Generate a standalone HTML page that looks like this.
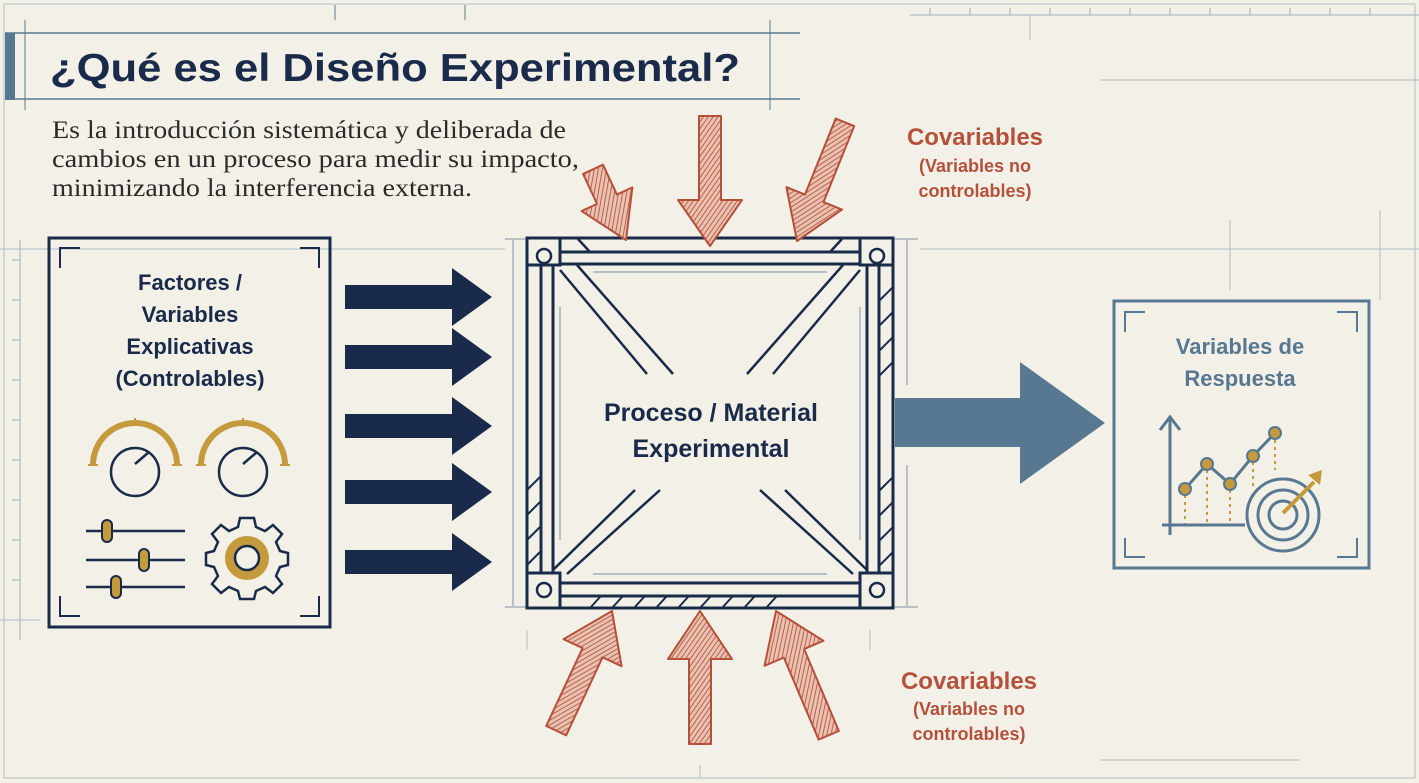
<!DOCTYPE html>
<html><head><meta charset="utf-8"><style>
html,body{margin:0;padding:0;background:#f3f1e7;}
svg{display:block;}
</style></head><body>
<svg width="1419" height="783" viewBox="0 0 1419 783" xmlns="http://www.w3.org/2000/svg" font-family="'Liberation Sans', sans-serif">
<defs>
<pattern id="hatch" width="4" height="4" patternUnits="userSpaceOnUse" patternTransform="rotate(35)">
<rect width="4" height="4" fill="#e8c2b2"/>
<line x1="0" y1="0" x2="0" y2="4" stroke="#b9543c" stroke-width="1.8"/>
</pattern>
</defs>
<rect width="1419" height="783" fill="#f3f1e7"/>
<g stroke="#9fb0bd" stroke-width="1" fill="none" opacity="0.8">
<rect x="4" y="4" width="1411" height="774"/>
<line x1="0" y1="249" x2="505" y2="249"/>
<line x1="920" y1="249" x2="1419" y2="249"/>
<line x1="0" y1="620" x2="40" y2="620"/>
<line x1="1030" y1="15" x2="1030" y2="40"/>
<line x1="1230" y1="220" x2="1230" y2="290"/>
<line x1="1380" y1="210" x2="1380" y2="300"/>
<line x1="1100" y1="80" x2="1419" y2="80"/>
<line x1="527" y1="630" x2="527" y2="650"/>
<line x1="700" y1="765" x2="700" y2="778"/>
<line x1="870" y1="630" x2="870" y2="650"/>
<line x1="1100" y1="760" x2="1300" y2="760"/>
</g>
<g stroke="#9fb0bd" stroke-width="1">
<line x1="20" y1="240" x2="20" y2="640"/>
<line x1="12" y1="260" x2="20" y2="260"/><line x1="12" y1="300" x2="20" y2="300"/><line x1="12" y1="340" x2="20" y2="340"/><line x1="12" y1="380" x2="20" y2="380"/><line x1="12" y1="420" x2="20" y2="420"/><line x1="12" y1="460" x2="20" y2="460"/><line x1="12" y1="500" x2="20" y2="500"/><line x1="12" y1="540" x2="20" y2="540"/><line x1="12" y1="580" x2="20" y2="580"/>
<line x1="910" y1="15" x2="1419" y2="15"/>
<line x1="930" y1="8" x2="930" y2="15"/><line x1="970" y1="8" x2="970" y2="15"/><line x1="1010" y1="8" x2="1010" y2="15"/><line x1="1050" y1="8" x2="1050" y2="15"/><line x1="1090" y1="8" x2="1090" y2="15"/><line x1="1130" y1="8" x2="1130" y2="15"/><line x1="1170" y1="8" x2="1170" y2="15"/><line x1="1210" y1="8" x2="1210" y2="15"/><line x1="1250" y1="8" x2="1250" y2="15"/><line x1="1290" y1="8" x2="1290" y2="15"/><line x1="1330" y1="8" x2="1330" y2="15"/><line x1="1370" y1="8" x2="1370" y2="15"/>
</g>
<rect x="5" y="33" width="10" height="67" fill="#587891"/>
<line x1="5" y1="33" x2="800" y2="33" stroke="#587891" stroke-width="1.5"/>
<line x1="5" y1="99" x2="800" y2="99" stroke="#587891" stroke-width="1.5"/>
<line x1="25" y1="20" x2="25" y2="110" stroke="#587891" stroke-width="1"/>
<line x1="770" y1="20" x2="770" y2="110" stroke="#587891" stroke-width="1"/>
<line x1="335" y1="5" x2="335" y2="20" stroke="#587891" stroke-width="1"/>
<line x1="465" y1="5" x2="465" y2="20" stroke="#587891" stroke-width="1"/>
<text x="50" y="81" font-size="39" font-weight="bold" fill="#1a2a4a" textLength="690" lengthAdjust="spacingAndGlyphs">¿Qué es el Diseño Experimental?</text>
<g font-family="'Liberation Serif', serif" font-size="25" fill="#2b2b2b">
<text x="52" y="138" textLength="514" lengthAdjust="spacingAndGlyphs">Es la introducción sistemática y deliberada de</text>
<text x="52" y="167" textLength="527" lengthAdjust="spacingAndGlyphs">cambios en un proceso para medir su impacto,</text>
<text x="52" y="196" textLength="420" lengthAdjust="spacingAndGlyphs">minimizando la interferencia externa.</text>
</g>
<rect x="49" y="238" width="281" height="389" fill="none" stroke="#1a2a4a" stroke-width="3"/>
<g stroke="#1a2a4a" stroke-width="2" fill="none">
<polyline points="60,268 60,248 80,248"/><polyline points="300,248 319,248 319,268"/>
<polyline points="60,596 60,616 80,616"/><polyline points="300,616 319,616 319,596"/>
</g>
<g font-size="22" font-weight="bold" fill="#1a2a4a" text-anchor="middle">
<text x="190" y="290">Factores /</text>
<text x="190" y="322">Variables</text>
<text x="190" y="354">Explicativas</text>
<text x="190" y="386">(Controlables)</text>
</g>
<g>
<path d="M93,465 A42,42 0 0 1 177,465" fill="none" stroke="#c49a3c" stroke-width="6"/>
<line x1="88" y1="465" x2="98" y2="465" stroke="#c49a3c" stroke-width="2"/><line x1="172" y1="465" x2="182" y2="465" stroke="#c49a3c" stroke-width="2"/>
<line x1="135" y1="418" x2="135" y2="426" stroke="#c49a3c" stroke-width="2"/>
<circle cx="135" cy="472" r="24" fill="#f3f1e7" stroke="#1a2a4a" stroke-width="2.5"/>
<line x1="135" y1="464" x2="149" y2="452" stroke="#1a2a4a" stroke-width="2.5"/>
<path d="M201,465 A42,42 0 0 1 285,465" fill="none" stroke="#c49a3c" stroke-width="6"/>
<line x1="196" y1="465" x2="206" y2="465" stroke="#c49a3c" stroke-width="2"/><line x1="280" y1="465" x2="290" y2="465" stroke="#c49a3c" stroke-width="2"/>
<line x1="243" y1="418" x2="243" y2="426" stroke="#c49a3c" stroke-width="2"/>
<circle cx="243" cy="472" r="24" fill="#f3f1e7" stroke="#1a2a4a" stroke-width="2.5"/>
<line x1="243" y1="464" x2="257" y2="452" stroke="#1a2a4a" stroke-width="2.5"/>
</g>
<g stroke="#1a2a4a" stroke-width="2.5">
<line x1="86" y1="531" x2="185" y2="531"/>
<line x1="86" y1="560" x2="185" y2="560"/>
<line x1="86" y1="587" x2="185" y2="587"/>
</g>
<g fill="#c49a3c" stroke="#1a2a4a" stroke-width="2">
<rect x="102" y="520" width="10" height="22" rx="5"/>
<rect x="139" y="549" width="10" height="22" rx="5"/>
<rect x="111" y="576" width="10" height="22" rx="5"/>
</g>
<g transform="translate(247,558)">
<path d="M-7,-40 L7,-40 L9,-31 L18,-27 L26,-33 L35,-24 L29,-16 L33,-7 L41,-5 L41,7 L33,9 L29,18 L35,26 L26,35 L18,29 L9,33 L7,41 L-7,41 L-9,33 L-18,29 L-26,35 L-35,26 L-29,18 L-33,9 L-41,7 L-41,-5 L-33,-7 L-29,-16 L-35,-24 L-26,-33 L-18,-27 L-9,-31 Z" fill="#f3f1e7" stroke="#1a2a4a" stroke-width="2.5"/>
<circle r="22" fill="#c49a3c"/>
<circle r="12" fill="#f3f1e7" stroke="#1a2a4a" stroke-width="2.5"/>
</g>
<g fill="#1a2a4a">
<polygon points="345,285 452,285 452,268 492,297 452,326 452,309 345,309"/>
<polygon points="345,345 452,345 452,328 492,357 452,386 452,369 345,369"/>
<polygon points="345,414 452,414 452,397 492,426 452,455 452,438 345,438"/>
<polygon points="345,480 452,480 452,463 492,492 452,521 452,504 345,504"/>
<polygon points="345,550 452,550 452,533 492,562 452,591 452,574 345,574"/>
</g>
<g stroke="#7f95a6" stroke-width="1" fill="#7f95a6">
<line x1="513" y1="240" x2="513" y2="606"/>
<line x1="505" y1="239" x2="527" y2="239"/><line x1="505" y1="607" x2="527" y2="607"/>
<line x1="907" y1="240" x2="907" y2="385"/><line x1="907" y1="465" x2="907" y2="606"/>
<line x1="893" y1="239" x2="918" y2="239"/><line x1="893" y1="607" x2="918" y2="607"/>
</g>
<g stroke="#1a2a4a" stroke-width="3" fill="none">
<rect x="527" y="238" width="366" height="370"/>
<line x1="560" y1="252" x2="860" y2="252"/>
<line x1="560" y1="264" x2="860" y2="264"/>
<line x1="560" y1="583" x2="860" y2="583"/>
<line x1="560" y1="596" x2="860" y2="596"/>
<line x1="541" y1="265" x2="541" y2="573"/>
<line x1="553" y1="265" x2="553" y2="573"/>
<line x1="867" y1="265" x2="867" y2="573"/>
<line x1="879" y1="265" x2="879" y2="573"/>
<rect x="527" y="238" width="33" height="27" fill="#f3f1e7"/>
<rect x="860" y="238" width="33" height="27" fill="#f3f1e7"/>
<rect x="527" y="573" width="33" height="35" fill="#f3f1e7"/>
<rect x="860" y="573" width="33" height="35" fill="#f3f1e7"/>
</g>
<g stroke="#1a2a4a" stroke-width="2.5" fill="none">
<circle cx="544" cy="256" r="7"/><circle cx="877" cy="256" r="7"/>
<circle cx="544" cy="590" r="7"/><circle cx="877" cy="590" r="7"/>
<line x1="560" y1="270" x2="647" y2="374"/><line x1="577" y1="265" x2="673" y2="374"/>
<line x1="860" y1="270" x2="773" y2="374"/><line x1="843" y1="265" x2="747" y2="374"/>
<line x1="553" y1="570" x2="635" y2="490"/><line x1="567" y1="574" x2="660" y2="490"/>
<line x1="867" y1="570" x2="785" y2="490"/><line x1="853" y1="574" x2="760" y2="490"/>
<line x1="578" y1="239" x2="590" y2="252"/><line x1="842" y1="239" x2="830" y2="252"/>
</g>
<g stroke="#1a2a4a" stroke-width="2">
<line x1="590" y1="608" x2="600" y2="597"/><line x1="612" y1="608" x2="622" y2="597"/><line x1="634" y1="608" x2="644" y2="597"/><line x1="656" y1="608" x2="666" y2="597"/><line x1="678" y1="608" x2="688" y2="597"/><line x1="700" y1="608" x2="710" y2="597"/><line x1="722" y1="608" x2="732" y2="597"/><line x1="744" y1="608" x2="754" y2="597"/><line x1="766" y1="608" x2="776" y2="597"/>
<line x1="880" y1="300" x2="893" y2="287"/><line x1="880" y1="325" x2="893" y2="312"/><line x1="880" y1="350" x2="893" y2="337"/><line x1="880" y1="375" x2="893" y2="362"/>
<line x1="880" y1="490" x2="893" y2="477"/><line x1="880" y1="515" x2="893" y2="502"/><line x1="880" y1="540" x2="893" y2="527"/><line x1="880" y1="565" x2="893" y2="552"/>
<line x1="527" y1="490" x2="540" y2="477"/><line x1="527" y1="515" x2="540" y2="502"/><line x1="527" y1="540" x2="540" y2="527"/><line x1="527" y1="565" x2="540" y2="552"/>
</g>
<g stroke="#8fa2b2" stroke-width="1.2">
<line x1="593" y1="272" x2="827" y2="272"/><line x1="593" y1="574" x2="827" y2="574"/>
<line x1="560" y1="307" x2="560" y2="540"/><line x1="860" y1="307" x2="860" y2="540"/>
</g>
<g font-size="25" font-weight="bold" fill="#1a2a4a" text-anchor="middle">
<text x="711" y="421">Proceso / Material</text>
<text x="711" y="457">Experimental</text>
</g>
<polygon points="895,398 1020,398 1020,362 1105,423 1020,484 1020,447 895,447" fill="#587891"/>
<rect x="1114" y="301" width="255" height="267" fill="none" stroke="#587891" stroke-width="3"/>
<g stroke="#587891" stroke-width="2" fill="none">
<polyline points="1125,332 1125,312 1145,312"/><polyline points="1337,312 1357,312 1357,332"/>
<polyline points="1125,538 1125,557 1145,557"/><polyline points="1337,557 1357,557 1357,538"/>
</g>
<g font-size="22" font-weight="bold" fill="#587891" text-anchor="middle">
<text x="1240" y="354">Variables de</text>
<text x="1240" y="386">Respuesta</text>
</g>
<g stroke="#c49a3c" stroke-width="2" stroke-dasharray="3,4">
<line x1="1185" y1="495" x2="1185" y2="525"/><line x1="1207" y1="470" x2="1207" y2="525"/><line x1="1230" y1="490" x2="1230" y2="525"/><line x1="1253" y1="462" x2="1253" y2="490"/><line x1="1275" y1="440" x2="1275" y2="470"/>
</g>
<g stroke="#587891" stroke-width="3" fill="none">
<line x1="1170" y1="417" x2="1170" y2="535"/><polyline points="1160,430 1170,417 1180,430"/>
<line x1="1162" y1="525" x2="1245" y2="525"/>
<polyline points="1185,489 1207,464 1230,484 1253,456 1275,433"/>
<circle cx="1283" cy="515" r="36" fill="#f3f1e7"/>
<circle cx="1283" cy="515" r="25"/>
<circle cx="1283" cy="515" r="14"/>
</g>
<g fill="#c49a3c" stroke="#587891" stroke-width="2">
<circle cx="1185" cy="489" r="6"/><circle cx="1207" cy="464" r="6"/><circle cx="1230" cy="484" r="6"/><circle cx="1253" cy="456" r="6"/><circle cx="1275" cy="433" r="6"/>
</g>
<line x1="1283" y1="513" x2="1314" y2="482" stroke="#c49a3c" stroke-width="4"/>
<polygon points="1308,475 1322,470 1320,485 1314,480" fill="#c49a3c"/>
<g fill="url(#hatch)" stroke="#b5503a" stroke-width="2" stroke-linejoin="round">
<polygon transform="translate(626,240) rotate(-25)" points="0,0 -28,-45 -11,-45 -11,-78 11,-78 11,-45 28,-45"/>
<polygon transform="translate(710,246) rotate(0)" points="0,0 -32,-46 -11,-46 -11,-130 11,-130 11,-46 32,-46"/>
<polygon transform="translate(797,241) rotate(22)" points="0,0 -30,-46 -10,-46 -10,-128 10,-128 10,-46 30,-46"/>
<polygon transform="translate(612,611) rotate(-155)" points="0,0 -32,-46 -11,-46 -11,-132 11,-132 11,-46 32,-46"/>
<polygon transform="translate(700,611) rotate(180)" points="0,0 -32,-48 -11,-48 -11,-133 11,-133 11,-48 32,-48"/>
<polygon transform="translate(776,611) rotate(157)" points="0,0 -32,-46 -11,-46 -11,-135 11,-135 11,-46 32,-46"/>
</g>
<g font-weight="bold" fill="#b5503a" text-anchor="middle">
<text x="975" y="145" font-size="24">Covariables</text>
<text x="975" y="172" font-size="18">(Variables no</text>
<text x="975" y="197" font-size="18">controlables)</text>
<text x="969" y="689" font-size="24">Covariables</text>
<text x="969" y="715" font-size="18">(Variables no</text>
<text x="969" y="740" font-size="18">controlables)</text>
</g>
</svg>
</body></html>
